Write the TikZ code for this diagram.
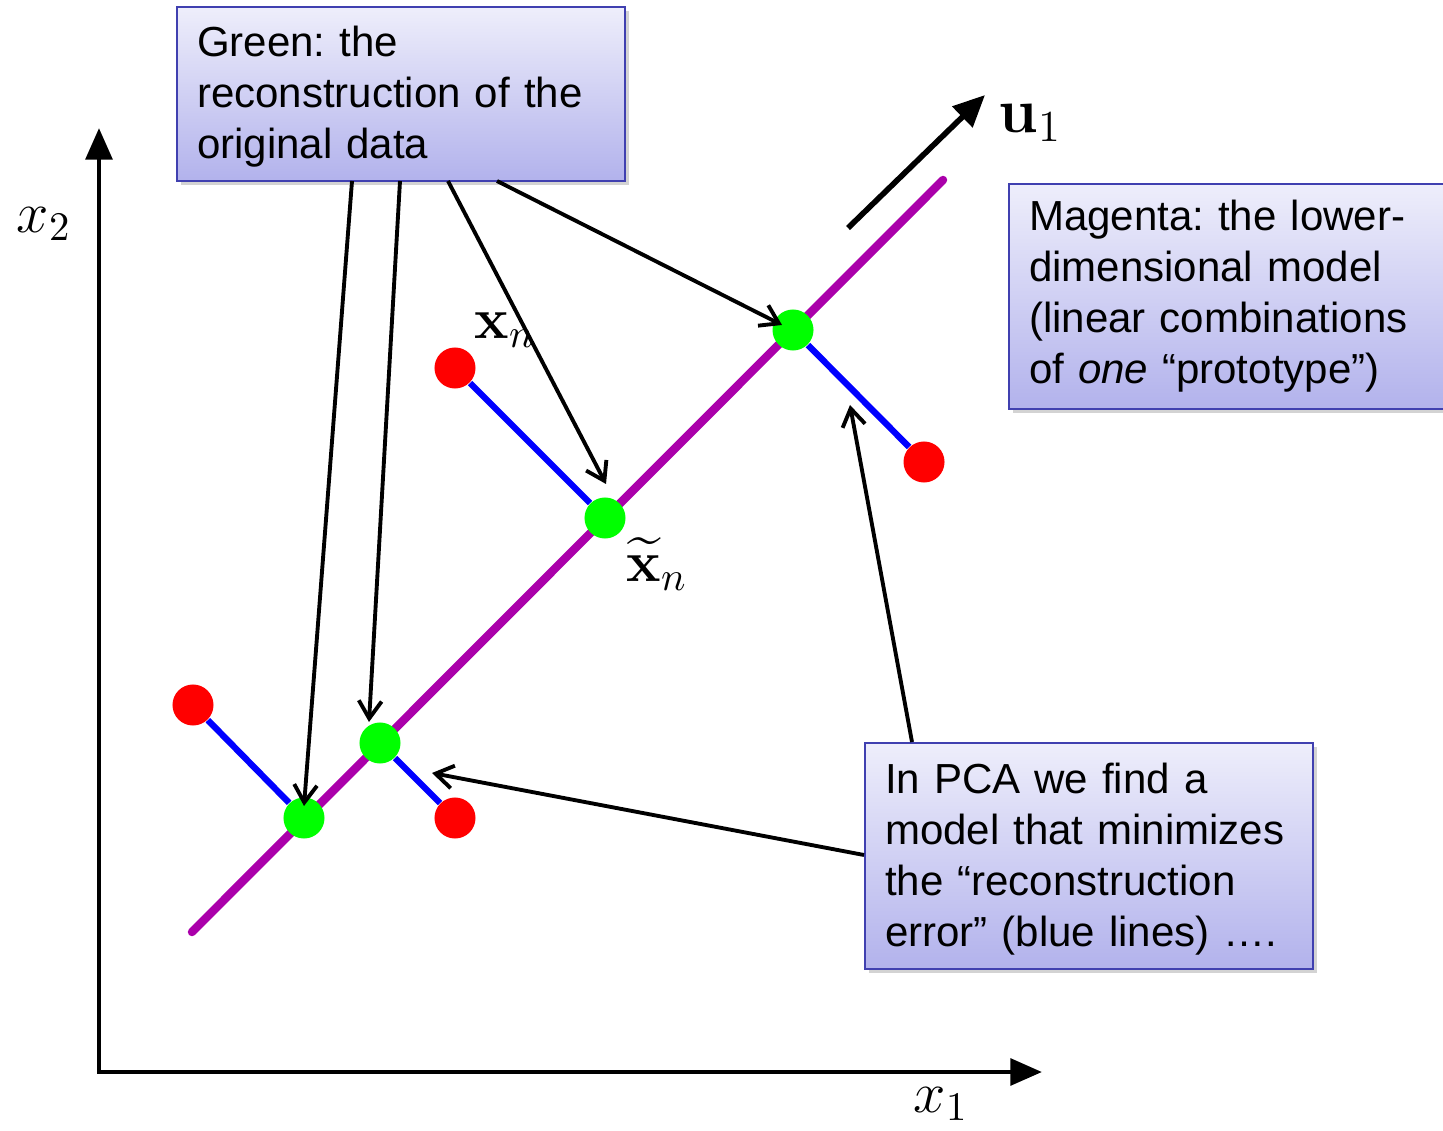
\documentclass[tikz,border=0pt]{standalone}
\usepackage{fix-cm}
\usepackage{amsmath}
\usepackage[no-math]{fontspec}
\newfontfamily\boxfont{Liberation Sans}
\usetikzlibrary{arrows.meta,shadows,backgrounds}
\frenchspacing

\definecolor{boxtop}{RGB}{238,238,251}
\definecolor{boxbottom}{RGB}{178,178,236}
\definecolor{boxline}{RGB}{64,64,176}
\definecolor{modelcol}{RGB}{170,0,170}

\tikzset{
  note/.style={draw=boxline, line width=0.6pt, top color=boxtop, bottom color=boxbottom,
    drop shadow={shadow xshift=1pt, shadow yshift=-1pt, opacity=.35},
    anchor=north west, align=left, inner xsep=0.2cm,
    font=\boxfont\fontsize{11.95}{14.5}\selectfont},
  rdot/.style={circle, fill=red, inner sep=0pt, minimum size=0.41cm},
  gdot/.style={circle, fill=green, inner sep=0pt, minimum size=0.41cm},
  err/.style={blue, line width=1.8pt},
  model/.style={modelcol, line width=2.4pt, line cap=round},
  callout/.style={line width=1.1pt, -{Straight Barb[length=5pt, width=6.5pt, line width=1.1pt]}},
  axis/.style={line width=1.4pt, {Triangle[length=9pt, width=7.5pt]}-{Triangle[length=9pt, width=7.5pt]}},
  lbl/.style={font=\fontsize{16.5}{19}\selectfont}
}

\begin{document}
\begin{tikzpicture}[x=0.01cm, y=-0.01cm]
\clip (0,0) rectangle (1443,1131);

% axes
\coordinate (o) at (99,1072);
\coordinate (xend) at (1042,1072);
\coordinate (yend) at (99,128);
\draw[axis] (yend) -- (o) -- (xend);
\node[lbl] (x1) at (941,1104) {$x_1$};
\node[lbl] (x2) at (44,224) {$x_2$};

% data and reconstructions
\node[rdot] (r1) at (193,705) {};
\node[rdot] (r2) at (455,818) {};
\node[rdot] (r3) at (455,368) {};
\node[rdot] (r4) at (924,462) {};
\node[gdot] (g1) at (304,818) {};
\node[gdot] (g2) at (380,743) {};
\node[gdot] (g3) at (605,518) {};
\node[gdot] (g4) at (793,330) {};

\coordinate (m0) at (192,932);
\coordinate (m1) at (943,180);
\begin{scope}[on background layer]
\draw[model] (m0) -- (m1);
\foreach \i in {1,...,4}
  \draw[err] (r\i) -- (g\i);
\end{scope}

\node[lbl] (xn) at (505,330) {$\mathbf{x}_n$};
\node[lbl] (xt) at (657,564) {$\widetilde{\mathbf{x}}_n$};

% principal direction
\coordinate (u0) at (848,228);
\coordinate (utip) at (985,95);
\draw[line width=1.6pt, -{Triangle[length=9pt, width=8pt]}] (u0) -- (utip);
\node[lbl, font=\fontsize{18}{21}\selectfont] (u1) at (1030,123) {$\mathbf{u}_1$};

% text boxes
\node[note, minimum width=4.48cm, minimum height=1.74cm, text width=4.08cm] (gbox) at (176,6)
  {\strut Green: the\\reconstruction of the\\original data};
\node[note, minimum width=4.6cm, minimum height=2.25cm, text width=4.2cm] (mbox) at (1008,183)
  {Magenta: the lower-\\dimensional model\\(linear combinations\\of \textit{one} “prototype”)};
\node[note, minimum width=4.48cm, minimum height=2.26cm, text width=4.08cm] (pbox) at (864,742)
  {\strut In PCA we find a\\model that minimizes\\the “reconstruction\\error” (blue lines) \dots.};

% callout arrows
\coordinate (a1) at (352,181);
\coordinate (a2) at (400,181);
\coordinate (a3) at (448,181);
\coordinate (a4) at (497,181);
\coordinate (t1) at (304,806);
\coordinate (t2) at (369,722);
\coordinate (t3) at (606,484);
\coordinate (t4) at (782,325);
\foreach \i in {1,...,4}
  \draw[callout] (a\i) -- (t\i);
\coordinate (a5) at (912,742);
\coordinate (t5) at (850,405);
\coordinate (a6) at (864,855);
\coordinate (t6) at (432,773);
\draw[callout] (a5) -- (t5);
\draw[callout] (a6) -- (t6);
\end{tikzpicture}
\end{document}
